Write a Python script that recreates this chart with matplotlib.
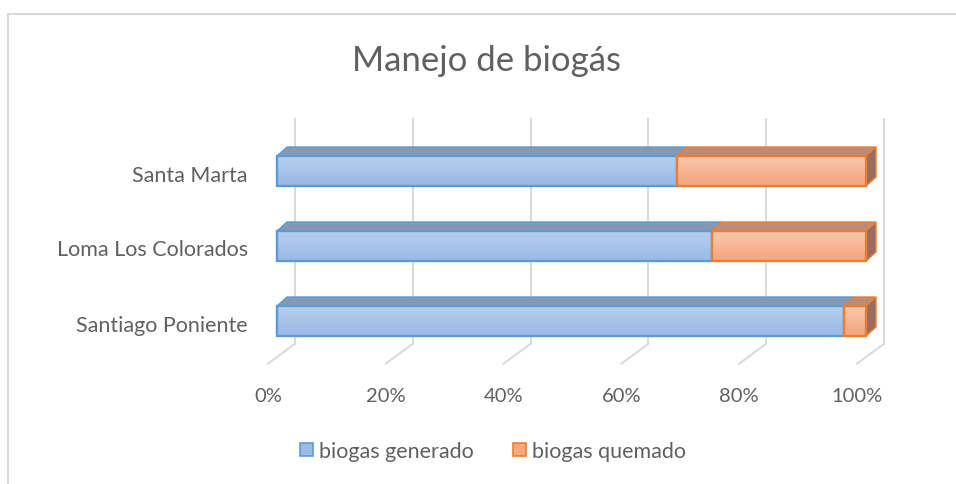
"""Horizontal 100% stacked bars with a 3-D look: biogas handling per landfill."""

import matplotlib.pyplot as plt
import numpy as np
from matplotlib.colors import LinearSegmentedColormap
from matplotlib.lines import Line2D
from matplotlib.patches import Patch, Polygon, Rectangle

sites = ["Santiago Poniente", "Loma Los Colorados", "Santa Marta"]
generado = [96.3, 73.8, 67.9]
quemado = [3.7, 26.2, 32.1]
ticks = [0, 20, 40, 60, 80, 100]
tick_labels = ["0%", "20%", "40%", "60%", "80%", "100%"]

TEXT = "#606060"
GRID = "#d9d9d9"
series = [
    # label, values, top/bottom gradient, edge, top face, side face
    ("biogas generado", generado, "#b5cdec", "#9bbbe5", "#5b9bd5", "#8799b2", "#6f84a0"),
    ("biogas quemado", quemado, "#f9c4a8", "#f4a880", "#ed7d31", "#bb8c7c", "#9b6d5e"),
]

plt.rcParams["font.family"] = ["Lato", "DejaVu Sans"]

W, H = 956, 485
fig = plt.figure(figsize=(W / 100, H / 100), dpi=100)

# front plane of the bars: 0..100 % across, categories stacked bottom-up
left_px, right_px = 277, 866
floor_px, top_px = 358, 133
ax = fig.add_axes([left_px / W, 1 - floor_px / H,
                   (right_px - left_px) / W, (floor_px - top_px) / H])
ax.set_xlim(0, 100)
ax.set_ylim(-0.5, 2.5)
ax.axis("off")

px_x = (right_px - left_px) / 100.0   # pixels per percent
px_y = (floor_px - top_px) / 3.0      # pixels per category step


def dx(px):
    return px / px_x


def dy(px):
    return px / px_y


# back wall and floor grid
back_x, back_y = dx(18), dy(13.3)
front_x, front_y = dx(-9), dy(-6.7)
for t in ticks:
    ax.add_line(Line2D([t + back_x, t + back_x], [-0.5 + back_y, 2.5 + back_y],
                       color=GRID, lw=1.4, zorder=1, clip_on=False))
    ax.add_line(Line2D([t + back_x, t + front_x], [-0.5 + back_y, -0.5 + front_y],
                       color=GRID, lw=1.4, zorder=1, clip_on=False))

for t, lab in zip(ticks, tick_labels):
    ax.text(t + front_x, -0.5 - dy(39), lab, ha="center", va="center",
            fontsize=14.5, color=TEXT, clip_on=False)

# bars
bar_h = 0.4
ddx, ddy = dx(10), dy(9)
ypos = np.arange(len(sites)) - dy(1.5)
lefts = np.zeros(len(sites))
z = 3
for name, vals, c_top, c_bot, edge, face_top, face_side in series:
    grad = np.array([[0.0], [1.0]])
    cmap = LinearSegmentedColormap.from_list(name, [c_bot, c_top])
    for i, v in enumerate(vals):
        x0, x1 = lefts[i], lefts[i] + v
        y0, y1 = ypos[i] - bar_h / 2, ypos[i] + bar_h / 2
        top = Polygon([(x0, y1), (x1, y1), (x1 + ddx, y1 + ddy), (x0 + ddx, y1 + ddy)],
                      closed=True, facecolor=face_top, edgecolor=edge, lw=1.0,
                      zorder=z, clip_on=False)
        ax.add_patch(top)
        if x1 >= 99.9:
            side = Polygon([(x1, y0), (x1, y1), (x1 + ddx, y1 + ddy), (x1 + ddx, y0 + ddy)],
                           closed=True, facecolor=face_side, edgecolor=edge, lw=1.0,
                           zorder=z, clip_on=False)
            ax.add_patch(side)
        ax.imshow(grad, cmap=cmap, extent=(x0, x1, y0, y1), origin="lower",
                  aspect="auto", interpolation="bicubic", zorder=z + 0.5)
        ax.add_patch(Rectangle((x0, y0), v, bar_h, facecolor="none", edgecolor=edge,
                               lw=1.7, zorder=z + 1, clip_on=False))
    lefts += np.array(vals)
    z += 3

ax.set_xlim(0, 100)
ax.set_ylim(-0.5, 2.5)

for i, s in enumerate(sites):
    ax.text(dx(-29), i - dy(5), s, ha="right", va="center", fontsize=15.5,
            color=TEXT, clip_on=False)

fig.text(487 / W, 1 - 61 / H, "Manejo de biogás", ha="center", va="center",
         fontsize=25, color=TEXT)

handles = [Patch(facecolor=s[3], edgecolor=s[4], lw=1.2, label=s[0]) for s in series]
fig.legend(handles=handles, loc="center", bbox_to_anchor=(493 / W, 1 - 452 / H),
           ncol=2, frameon=False, fontsize=15.5, labelcolor=TEXT,
           handlelength=0.6, handleheight=0.6, handletextpad=0.3,
           columnspacing=1.8)

# chart area outline
fig.add_artist(Rectangle((8 / W, -0.1), 1.2, 1 - 15 / H + 0.1,
                         transform=fig.transFigure, facecolor="none",
                         edgecolor=GRID, lw=1.5))

fig.savefig("out.png", dpi=100)
